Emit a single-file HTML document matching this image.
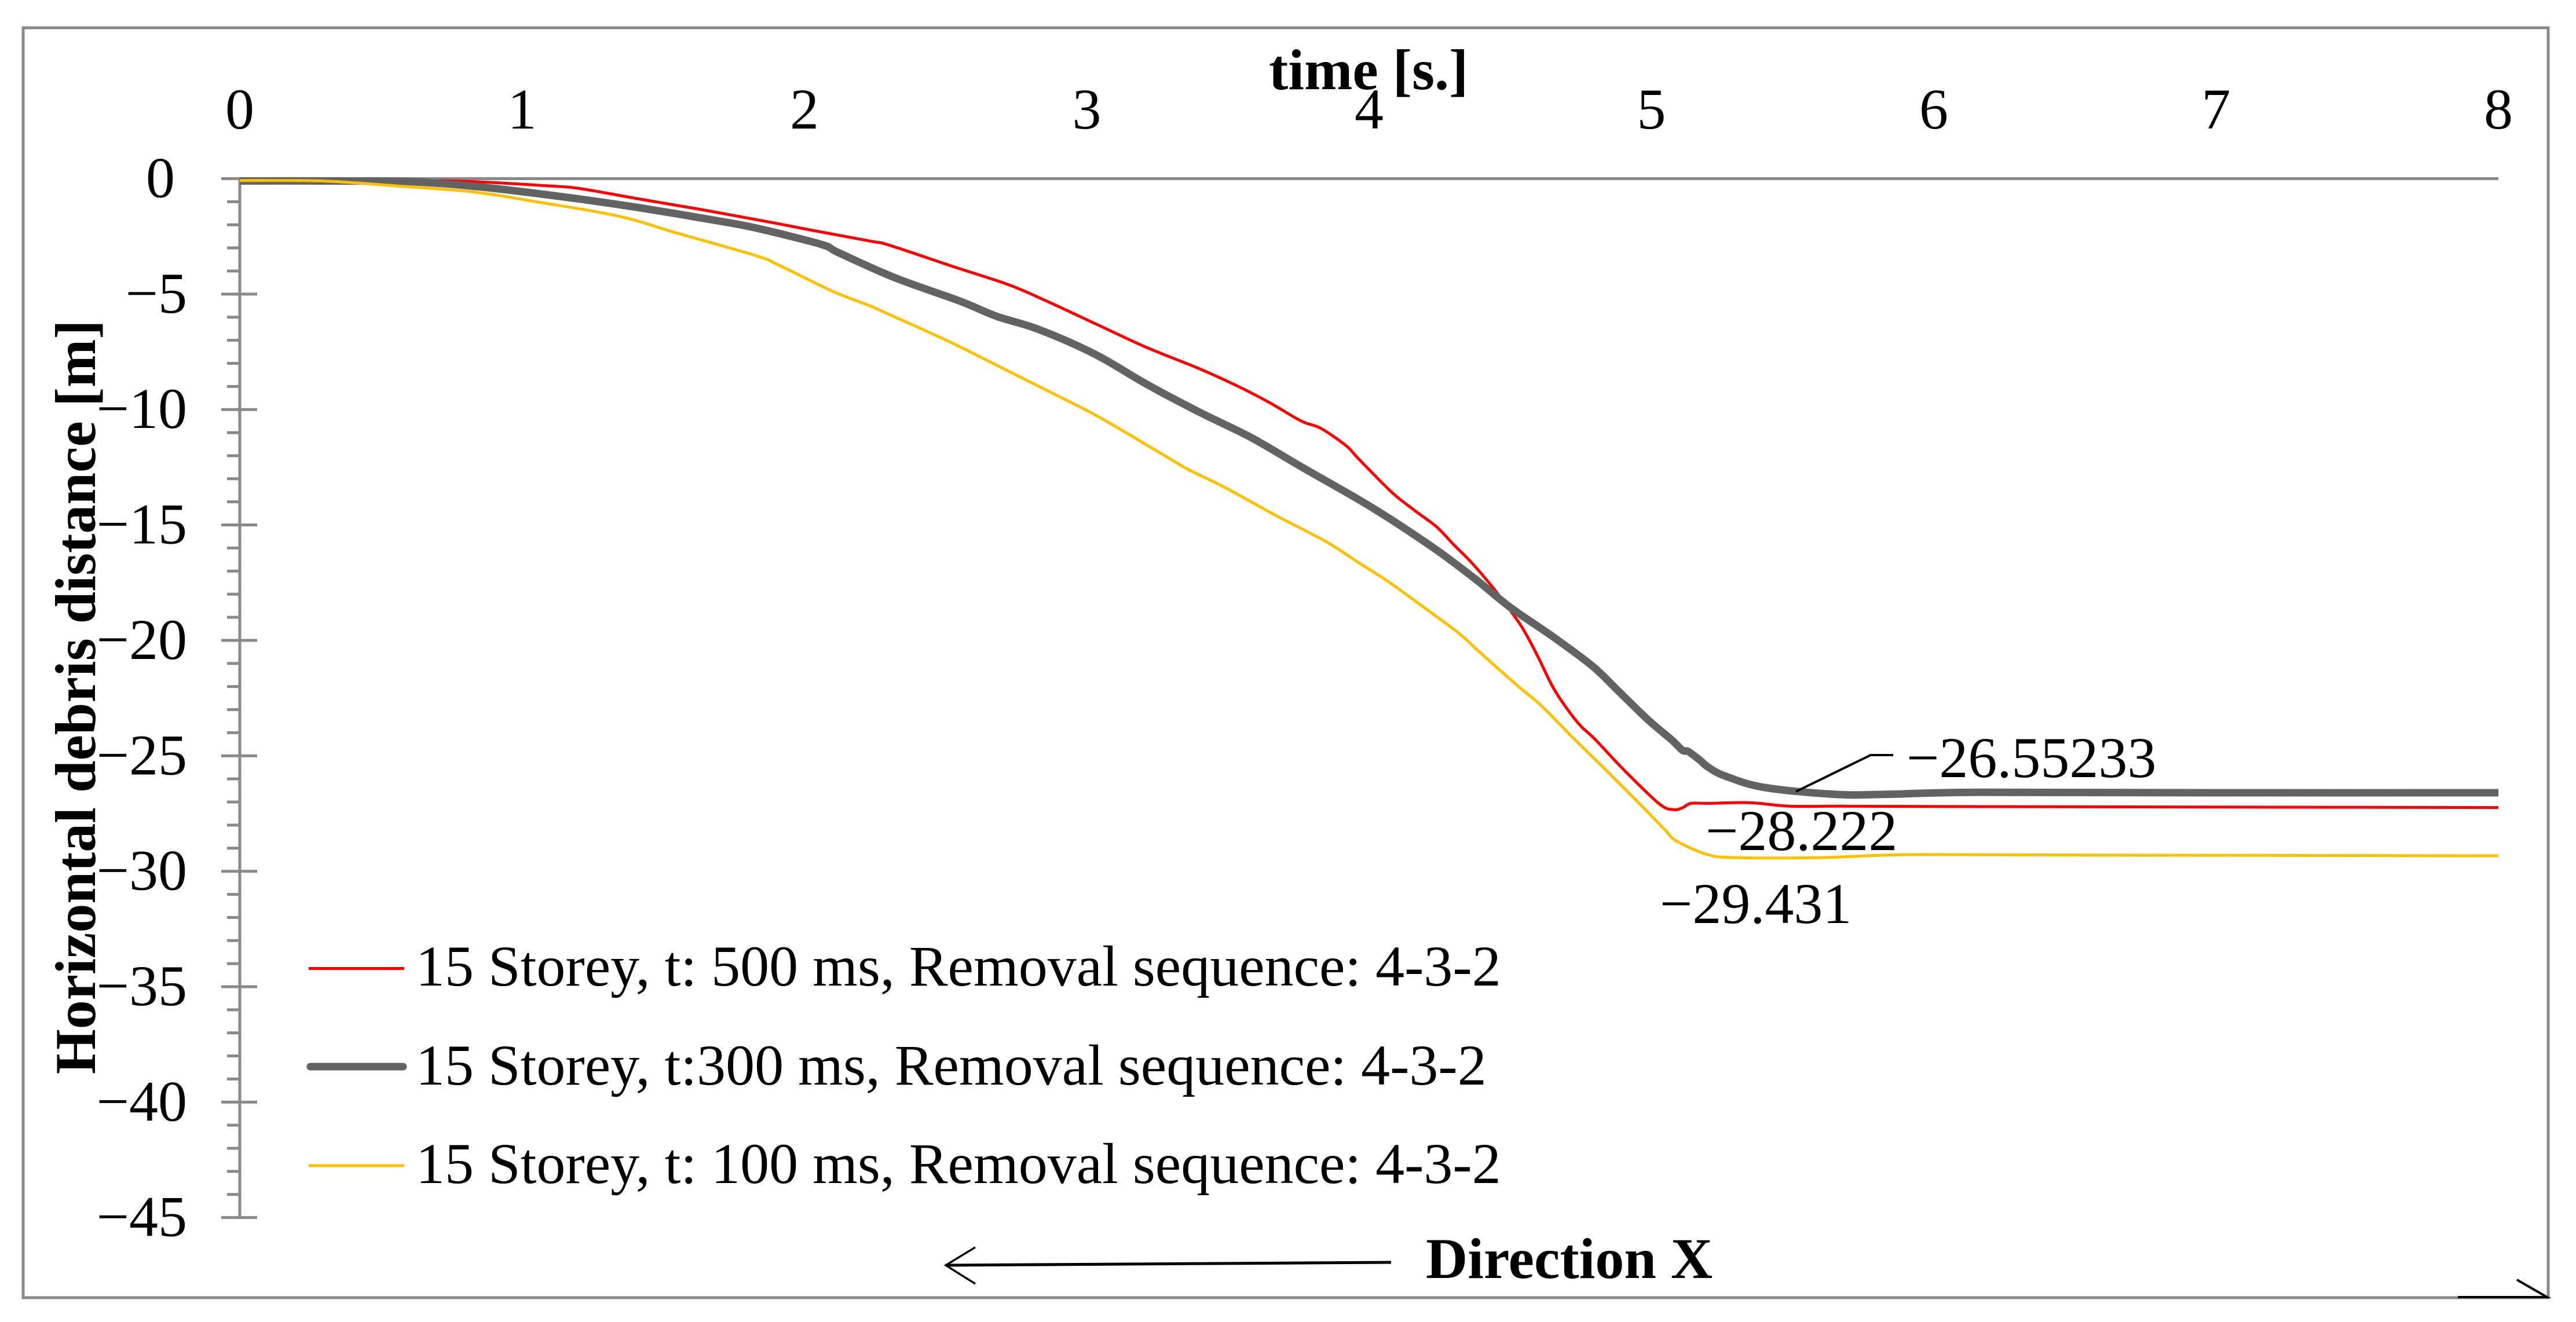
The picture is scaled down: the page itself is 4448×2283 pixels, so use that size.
<!DOCTYPE html>
<html lang="en">
<head>
<meta charset="utf-8">
<title>Horizontal debris distance vs time</title>
<style>
html,body{margin:0;padding:0;background:#fff;}
svg{display:block;}
text{font-family:"Liberation Serif",serif;fill:#000;}
</style>
</head>
<body>
<svg id="chart" xmlns="http://www.w3.org/2000/svg" width="4448" height="2283" viewBox="0 0 4448 2283">
  <rect x="0" y="0" width="4448" height="2283" fill="#ffffff"/>
  <rect x="40" y="48" width="4360" height="2193" fill="none" stroke="#898989" stroke-width="5"/>
  <g id="axes"></g>
  <g id="series"></g>
  <text x="2191" y="154" font-size="100" font-weight="bold">time [s.]</text>
  <text transform="translate(164,1855) rotate(-90)" font-size="100" font-weight="bold">Horizontal debris distance [m]</text>

  <polyline points="3101,1367 3230,1304 3269,1304" fill="none" stroke="#000" stroke-width="4"/>
  <text x="3292" y="1342" font-size="100">−26.55233</text>
  <text x="2945" y="1468" font-size="100">−28.222</text>
  <text x="2866" y="1594" font-size="100">−29.431</text>

  <g>
    <line x1="533" y1="1672.5" x2="698" y2="1672.5" stroke="#ff0000" stroke-width="5"/>
    <text x="718" y="1702" font-size="100">15 Storey, t: 500 ms, Removal sequence: 4-3-2</text>
    <line x1="536" y1="1842" x2="696" y2="1842" stroke="#636363" stroke-width="13" stroke-linecap="round"/>
    <text x="718" y="1873" font-size="100">15 Storey, t:300 ms, Removal sequence: 4-3-2</text>
    <line x1="533" y1="2013" x2="698" y2="2013" stroke="#ffc000" stroke-width="5"/>
    <text x="718" y="2043" font-size="100">15 Storey, t: 100 ms, Removal sequence: 4-3-2</text>
  </g>

  <g fill="none" stroke="#000">
    <line x1="2402" y1="2180" x2="1634" y2="2185" stroke-width="5"/>
    <polyline points="1684,2154 1633,2185 1684,2217" stroke-width="3.5"/>
  </g>
  <text x="2462" y="2207" font-size="100" font-weight="bold">Direction X</text>
  <polyline points="4244,2240 4398,2240 4346,2210" fill="none" stroke="#000" stroke-width="4"/>
</svg>
<script>
// Axis tick values
const xTickValues = [0, 1, 2, 3, 4, 5, 6, 7, 8];
const yMajorTickValues = [0, -5, -10, -15, -20, -25, -30, -35, -40, -45];

// Series: time [s] and distance [m]
const redTimes = [0, 0.4, 0.76, 1.09, 1.21, 1.41, 1.63, 1.91, 2.02, 2.23, 2.30, 2.52, 2.72, 2.85, 3.03, 3.21, 3.40, 3.54, 3.65, 3.76, 3.83, 3.92, 3.96, 4.08, 4.16, 4.24, 4.30, 4.36, 4.43, 4.51, 4.55, 4.60, 4.65, 4.70, 4.75, 4.80, 4.91, 5.03, 5.08, 5.11, 5.14, 5.20, 5.35, 5.49, 5.69, 6.2, 7, 8];
const redValues = [-0.1, -0.08, -0.1, -0.31, -0.44, -0.87, -1.33, -1.96, -2.22, -2.7, -2.88, -3.78, -4.58, -5.26, -6.28, -7.30, -8.24, -9.02, -9.72, -10.5, -10.82, -11.58, -12.1, -13.58, -14.36, -15.09, -15.86, -16.59, -17.58, -18.87, -19.6, -20.75, -22.0, -22.94, -23.71, -24.28, -25.7, -27.1, -27.33, -27.25, -27.06, -27.06, -27.03, -27.18, -27.18, -27.2, -27.22, -27.24];

const grayTimes = [0, 0.33, 0.62, 0.89, 1.19, 1.41, 1.70, 1.84, 2.06, 2.12, 2.32, 2.55, 2.68, 2.83, 3.03, 3.21, 3.40, 3.58, 3.76, 3.97, 4.10, 4.25, 4.38, 4.50, 4.65, 4.79, 4.88, 4.99, 5.07, 5.11, 5.13, 5.17, 5.20, 5.26, 5.40, 5.65, 5.83, 6.15, 7, 8];
const grayValues = [-0.1, -0.1, -0.14, -0.41, -0.86, -1.25, -1.84, -2.17, -2.85, -3.2, -4.29, -5.3, -5.96, -6.53, -7.61, -8.89, -10.12, -11.2, -12.48, -13.95, -14.94, -16.18, -17.38, -18.57, -19.83, -21.1, -22.16, -23.46, -24.29, -24.76, -24.81, -25.17, -25.48, -25.87, -26.37, -26.67, -26.67, -26.58, -26.6, -26.6];

const yellowTimes = [0, 0.29, 0.55, 0.83, 1.05, 1.34, 1.555, 1.83, 1.91, 2.10, 2.23, 2.30, 2.52, 2.70, 2.88, 3.05, 3.29, 3.36, 3.49, 3.67, 3.85, 3.97, 4.07, 4.20, 4.32, 4.39, 4.52, 4.61, 4.72, 4.85, 4.98, 5.05, 5.09, 5.20, 5.30, 5.60, 5.92, 6.56, 8];
const yellowValues = [-0.08, -0.1, -0.31, -0.58, -1.0, -1.62, -2.38, -3.34, -3.75, -4.88, -5.5, -5.88, -7.1, -8.2, -9.3, -10.37, -12.1, -12.6, -13.38, -14.59, -15.74, -16.69, -17.47, -18.62, -19.71, -20.49, -21.9, -22.83, -24.19, -25.75, -27.35, -28.23, -28.7, -29.28, -29.41, -29.41, -29.28, -29.3, -29.33];

// Axis functions
function xScale(t) { return 414 + t * 487.5; }
function yScale(v) { return 308.5 - v * 39.87; }

const SVG_NS = 'http://www.w3.org/2000/svg';
const axes = document.getElementById('axes');
const seriesGroup = document.getElementById('series');
const AXIS_COLOR = '#898989';

function axisLine(x1, y1, x2, y2, width) {
  const el = document.createElementNS(SVG_NS, 'line');
  el.setAttribute('x1', x1);
  el.setAttribute('y1', y1);
  el.setAttribute('x2', x2);
  el.setAttribute('y2', y2);
  el.setAttribute('stroke', AXIS_COLOR);
  el.setAttribute('stroke-width', width);
  axes.appendChild(el);
  return el;
}

const xAxisEl = axisLine(xScale(0) - 32, yScale(0), xScale(8), yScale(0), 5);



const yAxisEl = axisLine(xScale(0), yScale(0), xScale(0), yScale(-45), 5);



// Minor ticks every 1 m
for (let v = -1; v > -45; v--) {
  if (v % 5 === 0) continue;
  const minor = axisLine(xScale(0) - 22, yScale(v), xScale(0), yScale(v), 5);
  
  
}

// Major ticks and labels
yMajorTickValues.forEach(function (v) {
  if (v !== 0) {
    const major = axisLine(xScale(0) - 32, yScale(v), xScale(0) + 30, yScale(v), 5);
    
    
  }
  const label = document.createElementNS(SVG_NS, 'text');
  
  
  label.setAttribute('x', v === 0 ? 302 : 323);
  label.setAttribute('y', yScale(v) + 32);
  label.setAttribute('font-size', '100');
  label.setAttribute('text-anchor', 'end');
  label.textContent = v === 0 ? '0' : '\u2212' + Math.abs(v);
  axes.appendChild(label);
});

xTickValues.forEach(function (t) {
  const label = document.createElementNS(SVG_NS, 'text');
  
  
  label.setAttribute('x', xScale(t));
  label.setAttribute('y', 222);
  label.setAttribute('font-size', '100');
  label.setAttribute('text-anchor', 'middle');
  label.textContent = String(t);
  axes.appendChild(label);
});

// Smooth path through the points (Catmull-Rom), so the line reads as a continuous curve
function drawSeries(times, values, color, width) {
  const px = times.map(function (t) { return xScale(t); });
  const py = values.map(function (v) { return yScale(v); });
  let d = 'M' + px[0].toFixed(1) + ' ' + py[0].toFixed(1);
  for (let i = 0; i < px.length - 1; i++) {
    const a = Math.max(i - 1, 0);
    const b = Math.min(i + 2, px.length - 1);
    const c1x = px[i] + (px[i + 1] - px[a]) / 6;
    const c1y = py[i] + (py[i + 1] - py[a]) / 6;
    const c2x = px[i + 1] - (px[b] - px[i]) / 6;
    const c2y = py[i + 1] - (py[b] - py[i]) / 6;
    d += ' C' + c1x.toFixed(1) + ' ' + c1y.toFixed(1) + ' ' + c2x.toFixed(1) + ' ' + c2y.toFixed(1) + ' ' + px[i + 1].toFixed(1) + ' ' + py[i + 1].toFixed(1);
  }
  const el = document.createElementNS(SVG_NS, 'path');
  el.setAttribute('d', d);
  el.setAttribute('fill', 'none');
  el.setAttribute('stroke', color);
  el.setAttribute('stroke-width', width);
  el.setAttribute('stroke-linejoin', 'round');
  seriesGroup.appendChild(el);
  return el;
}

const redLine = drawSeries(redTimes, redValues, '#ff0000', 5);



const grayLine = drawSeries(grayTimes, grayValues, '#636363', 13);



const yellowLine = drawSeries(yellowTimes, yellowValues, '#ffc000', 5);


</script>
</body>
</html>
